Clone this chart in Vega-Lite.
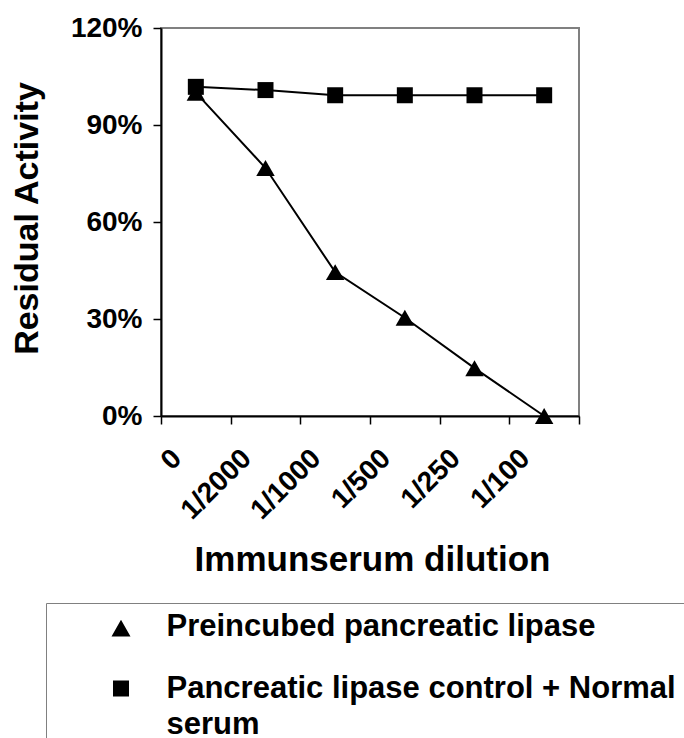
{
  "$schema": "https://vega.github.io/schema/vega-lite/v6.json",
  "width": 418,
  "height": 388,
  "autosize": {"type": "none"},
  "padding": {"left": 161, "top": 28, "right": 105, "bottom": 322},
  "background": "white",
  "config": {
    "font": "Liberation Sans",
    "view": {"stroke": "#808080", "strokeWidth": 2},
    "style": {"guide-label": {"lineHeight": 36}},
    "axis": {
      "labelFont": "Liberation Sans", "labelFontWeight": "bold", "labelColor": "black",
      "titleFont": "Liberation Sans", "titleFontWeight": "bold", "titleColor": "black",
      "domainColor": "black", "domainWidth": 2, "tickColor": "black", "tickWidth": 1.5, "grid": false
    }
  },
  "data": {
    "values": [
      {"series": "Preincubed pancreatic lipase", "dilution": "0", "activity": 1.0},
      {"series": "Preincubed pancreatic lipase", "dilution": "1/2000", "activity": 0.767},
      {"series": "Preincubed pancreatic lipase", "dilution": "1/1000", "activity": 0.445},
      {"series": "Preincubed pancreatic lipase", "dilution": "1/500", "activity": 0.304},
      {"series": "Preincubed pancreatic lipase", "dilution": "1/250", "activity": 0.148},
      {"series": "Preincubed pancreatic lipase", "dilution": "1/100", "activity": 0.0},
      {"series": "Pancreatic lipase control + Normal serum", "dilution": "0", "activity": 1.018},
      {"series": "Pancreatic lipase control + Normal serum", "dilution": "1/2000", "activity": 1.008},
      {"series": "Pancreatic lipase control + Normal serum", "dilution": "1/1000", "activity": 0.992},
      {"series": "Pancreatic lipase control + Normal serum", "dilution": "1/500", "activity": 0.992},
      {"series": "Pancreatic lipase control + Normal serum", "dilution": "1/250", "activity": 0.992},
      {"series": "Pancreatic lipase control + Normal serum", "dilution": "1/100", "activity": 0.992}
    ]
  },
  "encoding": {
    "x": {
      "field": "dilution", "type": "ordinal", "bandPosition": 0.5,
      "sort": ["0", "1/2000", "1/1000", "1/500", "1/250", "1/100"],
      "scale": {"type": "band", "paddingInner": 0, "paddingOuter": 0},
      "axis": {
        "title": "Immunserum dilution", "titleFontSize": 35, "titleX": 211, "titleY": 154,
        "titleBaseline": "alphabetic", "titleAlign": "center",
        "labelAngle": -45, "labelAlign": "right", "labelBaseline": "middle",
        "labelFontSize": 28, "labelOffset": -19, "labelPadding": 30, "tickSize": 8,
        "tickBand": "extent", "labelOverlap": false
      }
    },
    "y": {
      "field": "activity", "type": "quantitative",
      "scale": {"domain": [0, 1.2], "nice": false},
      "axis": {
        "title": "Residual Activity", "titleFontSize": 34, "titleX": -124, "titleY": 190,
        "titleBaseline": "alphabetic", "titleAlign": "center", "titleAngle": -90,
        "values": [0, 0.3, 0.6, 0.9, 1.2], "format": ".0%",
        "labelFontSize": 28, "tickSize": 8, "labelPadding": 11
      }
    }
  },
  "layer": [
    {
      "mark": {"type": "line", "color": "black", "strokeWidth": 2},
      "encoding": {"detail": {"field": "series", "type": "nominal"}}
    },
    {
      "transform": [{"filter": "datum.series == 'Preincubed pancreatic lipase'"}],
      "mark": {"type": "point", "filled": true, "color": "black", "opacity": 1, "shape": "triangle-up", "size": 340},
      "encoding": {}
    },
    {
      "transform": [{"filter": "datum.series == 'Pancreatic lipase control + Normal serum'"}],
      "mark": {"type": "point", "filled": true, "color": "black", "opacity": 1, "shape": "square", "size": 256},
      "encoding": {}
    },
    {
      "mark": {"type": "point", "filled": true, "color": "black", "opacity": 0, "size": 400},
      "encoding": {
        "shape": {
          "field": "series", "type": "nominal",
          "scale": {"domain": ["Preincubed pancreatic lipase", "Pancreatic lipase control + Normal serum"], "range": ["M-3.75,0H3.75M0,-0.67L0.95,1L-0.95,1Z", "M-3.75,0H3.75M-0.8,-0.8H0.8V0.8H-0.8Z"]},
          "legend": {
            "title": null, "orient": "none", "legendX": -115, "legendY": 575, "padding": 8,
            "strokeColor": "#808080", "rowPadding": 30,
            "labelFont": "Liberation Sans", "labelFontWeight": "bold", "labelFontSize": 31,
            "labelColor": "black", "labelLimit": 1000, "labelOffset": 30, "symbolOffset": 51.5,
            "symbolSize": 400, "symbolStrokeWidth": 2, "symbolFillColor": "black", "symbolStrokeColor": "black",
            "symbolOpacity": 1,
            "labelExpr": "datum.label == 'Pancreatic lipase control + Normal serum' ? ['Pancreatic lipase control + Normal\u00a0\u00a0', 'serum'] : datum.label"
          }
        }
      }
    }
  ]
}
